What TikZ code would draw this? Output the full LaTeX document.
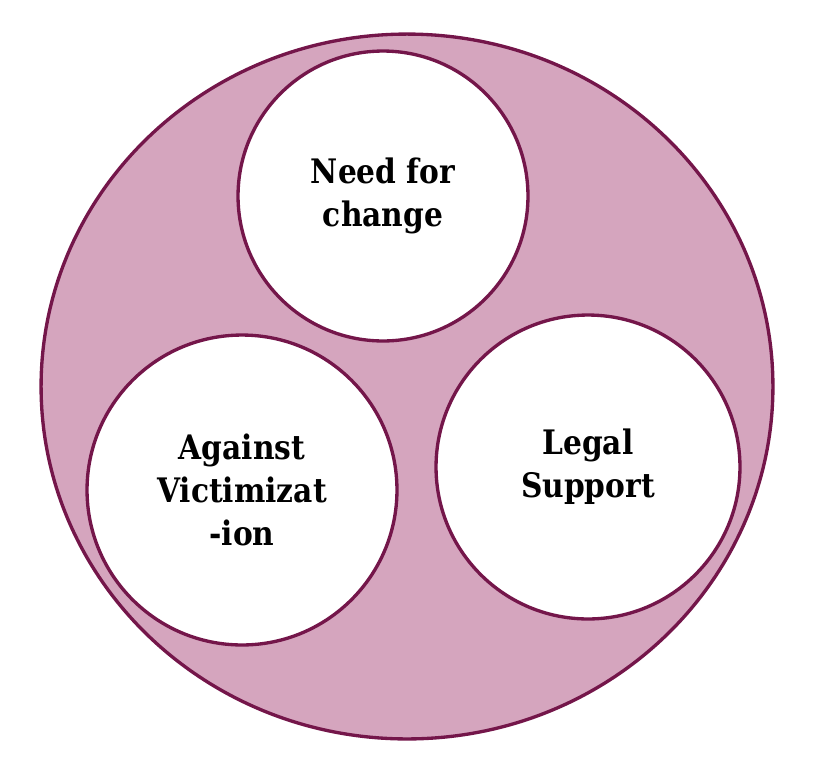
\documentclass[tikz,border=0pt]{standalone}
\usepackage{fontspec}
\setmainfont{DejaVu Serif}[FakeStretch=0.88]
\definecolor{ringfill}{HTML}{D5A5BE}
\definecolor{ringline}{HTML}{74164A}

\begin{document}
\begin{tikzpicture}[x=0.02cm,y=-0.02cm,
  bubble/.style={circle,draw=ringline,line width=1.9pt,fill=white,align=center,
    font=\fontsize{19.2}{24.5}\selectfont\bfseries,inner sep=0pt}]
\useasboundingbox (0,0) rectangle (818,782);
\draw[ringline,line width=1.9pt,fill=ringfill] (407,386.5) ellipse [x radius=7.32cm,y radius=7.05cm];
\node[bubble,minimum size=5.8cm] (need) at (383,196) {Need for\\change};
\node[bubble,minimum size=6.2cm] (victim) at (242,490) {Against\\Victimizat\\-ion};
\node[bubble,minimum size=6.08cm] (legal) at (588,467) {Legal\\Support};
\end{tikzpicture}
\end{document}
